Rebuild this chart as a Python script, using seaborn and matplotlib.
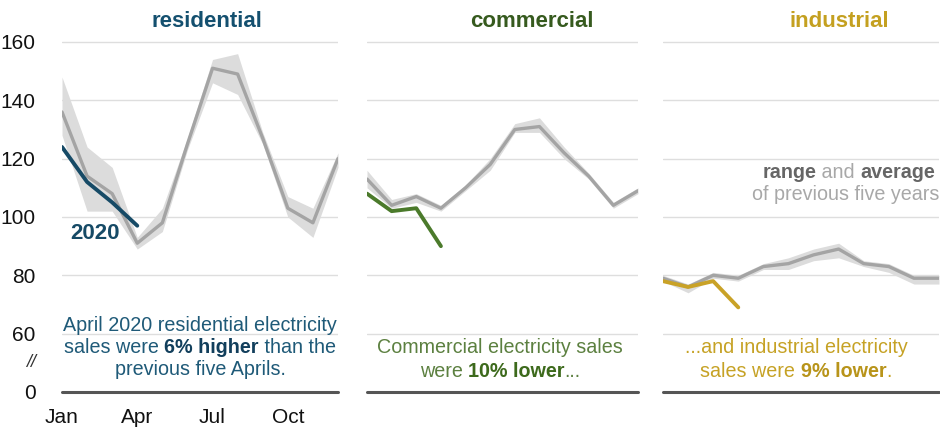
import numpy as np
import pandas as pd
import matplotlib
matplotlib.use("Agg")
import matplotlib.pyplot as plt
import seaborn as sns

sns.set_style("white")
plt.rcParams['font.family'] = ['Liberation Sans', 'DejaVu Sans']

months = ["Jan", "Feb", "Mar", "Apr", "May", "Jun", "Jul", "Aug", "Sep", "Oct", "Nov", "Dec"]
tick_months = ["Jan", "Apr", "Jul", "Oct"]

res_avg = [136, 114, 108, 91, 98, 125, 151, 149, 127, 103, 98, 120]
res_min = [128, 102, 102, 89, 95, 123, 146, 142, 125, 100, 93, 117]
res_max = [148, 124, 117, 93, 103, 127, 154, 156, 129, 107, 103, 122]
res_2020 = [124, 112, 105, 97]

com_avg = [113, 104, 107, 103, 110, 118, 130, 131, 122, 114, 104, 109]
com_min = [110, 103, 105, 102, 109, 116, 129, 129, 120, 113, 103, 108]
com_max = [116, 106, 108, 104, 111, 120, 132, 134, 124, 115, 105, 110]
com_2020 = [108, 102, 103, 90]

ind_avg = [79, 76, 80, 79, 83, 84, 87, 89, 84, 83, 79, 79]
ind_min = [78, 74, 79, 78, 82, 82, 85, 86, 83, 81, 77, 77]
ind_max = [80, 77, 81, 80, 84, 86, 89, 91, 85, 84, 80, 80]
ind_2020 = [78, 76, 78, 69]

fig = plt.figure(figsize=(9.4, 4.28), dpi=100)

W, H = 940, 428
def frac(l, r):
    return l / W, (r - l) / W
ybot = 1 - 397.8 / H
yh = (397.8 - 27.4) / H
axes = []
for (l, r) in [(62, 338), (367, 638), (663, 939)]:
    x0, w = frac(l, r)
    axes.append(fig.add_axes([x0, ybot, w, yh]))

panels = [
    ("residential", res_avg, res_min, res_max, res_2020, "#14506f", "#164a66", 0.525),
    ("commercial", com_avg, com_min, com_max, com_2020, "#365a1e", "#4b7a2b", 0.61),
    ("industrial", ind_avg, ind_min, ind_max, ind_2020, "#c4a020", "#c9a227", 0.64),
]

band_color = "#dcdcdc"
avg_color = "#a4a4a4"

for ax, (name, avg, lo, hi, cur, tcol, lcol, tx) in zip(axes, panels):
    df = pd.DataFrame({"m": np.arange(12), "avg": avg, "lo": lo, "hi": hi})
    dc = pd.DataFrame({"m": np.arange(len(cur)), "v": cur})
    for g in [60, 80, 100, 120, 140, 160]:
        ax.axhline(g, color="#dedede", lw=1.0, zorder=0)
    ax.fill_between(df["m"], df["lo"], df["hi"], color=band_color, lw=0, zorder=1)
    sns.lineplot(data=df, x="m", y="avg", ax=ax, color=avg_color, lw=2.4, zorder=2)
    sns.lineplot(data=dc, x="m", y="v", ax=ax, color=lcol, lw=2.8, zorder=3)
    ax.axhline(40, color="#555555", lw=2.2, zorder=4, clip_on=False)
    ax.set_xlim(0, 11)
    ax.set_ylim(38, 165)
    ax.set_xlabel("")
    ax.set_ylabel("")
    for s in ax.spines.values():
        s.set_visible(False)
    ax.set_yticks([])
    ax.set_xticks([])
    ax.text(tx, 1.0 + (27.4 - 22) / 370.4, name, transform=ax.transAxes, ha="center",
            va="center", fontsize=16, fontweight="bold", color=tcol)

ax0 = axes[0]
ax0.set_yticks([40, 60, 80, 100, 120, 140, 160])
ax0.set_yticklabels(["0", "60", "80", "100", "120", "140", "160"])
ax0.tick_params(axis="y", length=0, pad=19, labelsize=15, labelcolor="#111111")
ax0.text(-31 / 25, 50, "//", ha="center", va="center", fontsize=13, color="#333333",
         style="italic", clip_on=False)
ax0.set_xticks([months.index(m) for m in tick_months])
ax0.set_xticklabels(tick_months)
ax0.tick_params(axis="x", direction="out", length=5, width=1.2, color="#555555",
                pad=2, labelsize=15, labelcolor="#111111")
ax0.text(1.3, 94.5, "2020", ha="center", va="center", fontsize=16,
         fontweight="bold", color="#164a66")


def rich(ax, xc, y, pieces, fs=14.2):
    texts = []
    first = ax.text(xc, y, pieces[0][0], color=pieces[0][1], fontweight=pieces[0][2],
                    fontsize=fs, ha="left", va="baseline", clip_on=False)
    texts.append(first)
    prev = first
    for t, c, w in pieces[1:]:
        a = ax.annotate(t, xy=(1, 0), xycoords=prev, color=c, fontweight=w,
                        fontsize=fs, ha="left", va="bottom", annotation_clip=False)
        texts.append(a)
        prev = a
    return texts


groups = []
res_c = "#1f5a78"
res_b = "#123f5c"
com_c = "#5c8040"
com_b = "#3d6a1c"
ind_c = "#c6a225"
ind_b = "#b8941a"
lg = "#a8a8a8"
dg = "#666666"

groups.append(rich(ax0, 5.5, 61.0, [("April 2020 residential electricity", res_c, "normal")]))
groups.append(rich(ax0, 5.5, 53.3, [("sales were ", res_c, "normal"), ("6% higher", res_b, "bold"),
                                   (" than the", res_c, "normal")]))
groups.append(rich(ax0, 5.5, 45.8, [("previous five Aprils.", res_c, "normal")]))

groups.append(rich(axes[1], 5.4, 53.3, [("Commercial electricity sales", com_c, "normal")]))
groups.append(rich(axes[1], 5.4, 45.3, [("were ", com_c, "normal"), ("10% lower", com_b, "bold"),
                                       ("...", com_c, "normal")]))

groups.append(rich(axes[2], 5.3, 53.3, [("...and industrial electricity", ind_c, "normal")]))
groups.append(rich(axes[2], 5.3, 45.3, [("sales were ", ind_c, "normal"), ("9% lower", ind_b, "bold"),
                                       (".", ind_c, "normal")]))

groups.append(rich(axes[2], 7.4, 113.5, [("range", dg, "bold"), (" and ", lg, "normal"),
                                        ("average", dg, "bold")]))
groups.append(rich(axes[2], 7.3, 105.8, [("of previous five years", lg, "normal")]))

fig.canvas.draw()
r = fig.canvas.get_renderer()
for g in groups:
    bbs = [t.get_window_extent(r) for t in g]
    width = bbs[-1].x1 - bbs[0].x0
    first = g[0]
    ax = first.axes
    xd, yd = first.get_position()
    px, py = ax.transData.transform((xd, yd))
    nx, _ = ax.transData.inverted().transform((px - width / 2, py))
    first.set_position((nx, yd))

fig.savefig("out.png", dpi=100)
